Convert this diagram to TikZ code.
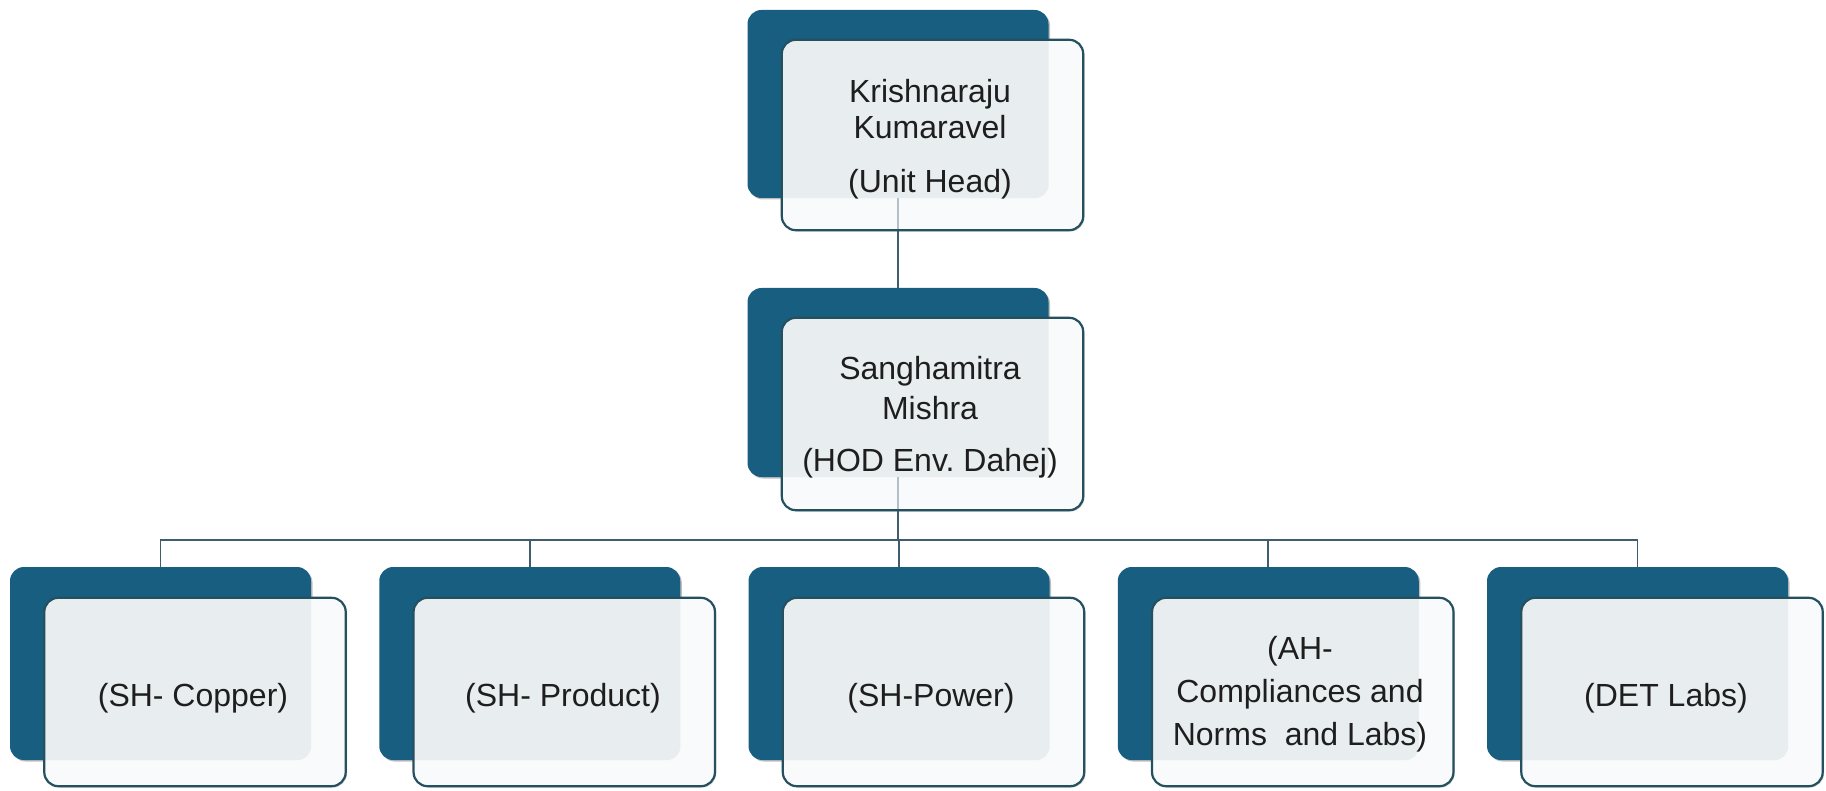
\documentclass[tikz,border=0pt]{standalone}
\usepackage{fontspec}
\setmainfont{Liberation Sans}
\usetikzlibrary{shadows}
\definecolor{backc}{HTML}{175E80}
\definecolor{frontc}{HTML}{F8FAFB}
\definecolor{overc}{HTML}{E8EDF0}
\definecolor{borderc}{HTML}{24505F}
\definecolor{linec}{HTML}{3F5D6C}
\definecolor{faintc}{HTML}{B4C0C8}
\definecolor{txtc}{HTML}{1E1E1E}
\frenchspacing
\tikzset{
  backbox/.style={fill=backc, rounded corners=14pt, minimum width=301pt, inner sep=0pt,
    drop shadow={shadow xshift=1.5pt, shadow yshift=-1.5pt, opacity=0.5}},
  frontbox/.style={fill=frontc, rounded corners=14pt, minimum width=301pt, inner sep=0pt,
    drop shadow={shadow xshift=1.5pt, shadow yshift=-1.5pt, opacity=0.35}},
  overlapfill/.style={fill=overc},
  frontborder/.style={draw=borderc, line width=2.2pt, rounded corners=14pt},
  conn/.style={draw=linec, line width=1.8pt},
  faint/.style={draw=faintc, line width=1.5pt},
  lbl/.style={text=txtc, align=center, inner sep=0pt, font=\fontsize{32}{38}\selectfont},
}
\begin{document}
\begin{tikzpicture}[x=1pt, y=-1pt]
\useasboundingbox (0,0) rectangle (1826,791);
% back boxes
\node[backbox, minimum height=188pt] (kb) at (898,104) {};
\node[backbox, minimum height=189pt] (mb) at (898,382.5) {};
\foreach \i/\xx in {1/160.5, 2/529.75, 3/899, 4/1268.25, 5/1637.5}{
  \node[backbox, minimum height=193pt] (b\i) at (\xx,663.5) {};
}
\coordinate (bus) at (898,540);
% connectors
\draw[conn] (kb.south) -- (mb.north);
\draw[conn] (mb.south) -- (bus);
\draw[conn] (b1.north) |- (b5.north |- bus) -- (b5.north);
\foreach \i in {2,3,4}{ \draw[conn] (b\i.north) -- (b\i.north |- bus); }
% front boxes
\node[frontbox, minimum height=190pt] (kf) at (932.5,135) {};
\node[frontbox, minimum height=192pt] (mf) at (932.5,414) {};
\foreach \i/\xx in {1/195, 2/564.25, 3/933.5, 4/1302.75, 5/1672}{
  \node[frontbox, minimum height=188pt] (f\i) at (\xx,692) {};
}
% overlaps
\begin{scope}
  \clip[rounded corners=14pt] (kf.south west) rectangle (kf.north east);
  \fill[overlapfill, rounded corners=14pt] (kb.south west) rectangle (kb.north east);
\end{scope}
\begin{scope}
  \clip[rounded corners=14pt] (mf.south west) rectangle (mf.north east);
  \fill[overlapfill, rounded corners=14pt] (mb.south west) rectangle (mb.north east);
\end{scope}
\foreach \i in {1,...,5}{
  \begin{scope}
    \clip[rounded corners=14pt] (f\i.south west) rectangle (f\i.north east);
    \fill[overlapfill, rounded corners=14pt] (b\i.south west) rectangle (b\i.north east);
  \end{scope}
}
% connector parts seen through front boxes
\draw[faint] (kb.south) -- (kb.south |- kf.south);
\draw[faint] (mb.south) -- (mb.south |- mf.south);
% borders
\draw[frontborder] (kf.south west) rectangle (kf.north east);
\draw[frontborder] (mf.south west) rectangle (mf.north east);
\foreach \i in {1,...,5}{
  \draw[frontborder] (f\i.south west) rectangle (f\i.north east);
}
% texts
\node[lbl, font=\fontsize{32}{36}\selectfont] (kt) at (930,139.5) {Krishnaraju\\Kumaravel\\[18pt](Unit Head)};
\node[lbl, font=\fontsize{32}{40}\selectfont] (mt) at (930,417) {Sanghamitra\\Mishra\\[12pt](HOD Env. Dahej)};
\node[lbl, anchor=base] (t1) at (193,706) {(SH- Copper)};
\node[lbl, anchor=base] (t2) at (563,706) {(SH- Product)};
\node[lbl, anchor=base] (t3) at (931,706) {(SH-Power)};
\node[lbl, font=\fontsize{32}{43}\selectfont] (t4) at (1300,694) {(AH-\\Compliances and\\Norms\ \ and Labs)};
\node[lbl, anchor=base] (t5) at (1666,706) {(DET Labs)};
\end{tikzpicture}
\end{document}
